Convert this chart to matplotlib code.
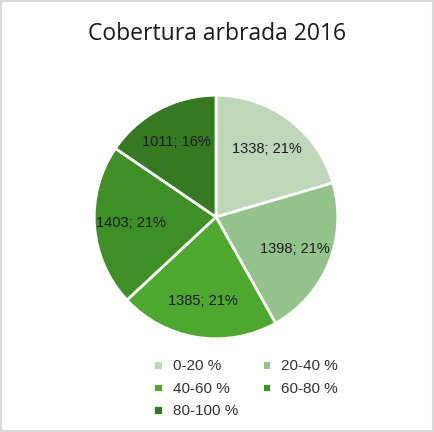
import numpy as np
import matplotlib.pyplot as plt
from matplotlib.patches import Rectangle

categories = ['0-20 %', '20-40 %', '40-60 %', '60-80 %', '80-100 %']
values = [1338, 1398, 1385, 1403, 1011]
pct_labels = ['21%', '21%', '21%', '21%', '16%']
colors = ['#bdd7b8', '#93c38a', '#4ea72e', '#3f8f27', '#357a22']

fig = plt.figure(figsize=(4.34, 4.32), dpi=100)
fig.patches.append(Rectangle((0.003, 0.003), 0.994, 0.994, transform=fig.transFigure,
                             fill=False, edgecolor='#d9d9d9', linewidth=1.5))

ax = fig.add_axes([(216 - 123) / 434, (215 - 123) / 432, 246 / 434, 246 / 432])
wedges, _ = ax.pie(values, colors=colors, startangle=90, counterclock=False,
                   wedgeprops=dict(edgecolor='white', linewidth=2))
ax.set_xlim(-1.01, 1.01)
ax.set_ylim(-1.01, 1.01)
ax.set_aspect('equal')

for w, v, p in zip(wedges, values, pct_labels):
    ang = np.deg2rad((w.theta1 + w.theta2) / 2)
    r = 0.7
    ax.text(r * np.cos(ang), r * np.sin(ang), f'{v}; {p}', ha='center', va='center',
            fontsize=10.5, family='Liberation Sans', color='#1a1a1a')

fig.text(0.5, 0.922, 'Cobertura arbrada 2016', ha='center', va='center',
         fontsize=16.5, family='Open Sans', color='#1a1a1a')

order = [0, 2, 4, 1, 3]
fig.legend([wedges[i] for i in order], [categories[i] for i in order],
           loc='upper left', bbox_to_anchor=(0.322, 0.2),
           ncol=2, frameon=False, prop={'family': 'Liberation Sans', 'size': 11},
           labelcolor='#333333',
           handlelength=0.6, handleheight=0.6, handletextpad=0.7, columnspacing=1.5,
           labelspacing=0.55)

fig.savefig('out.png', dpi=100)
